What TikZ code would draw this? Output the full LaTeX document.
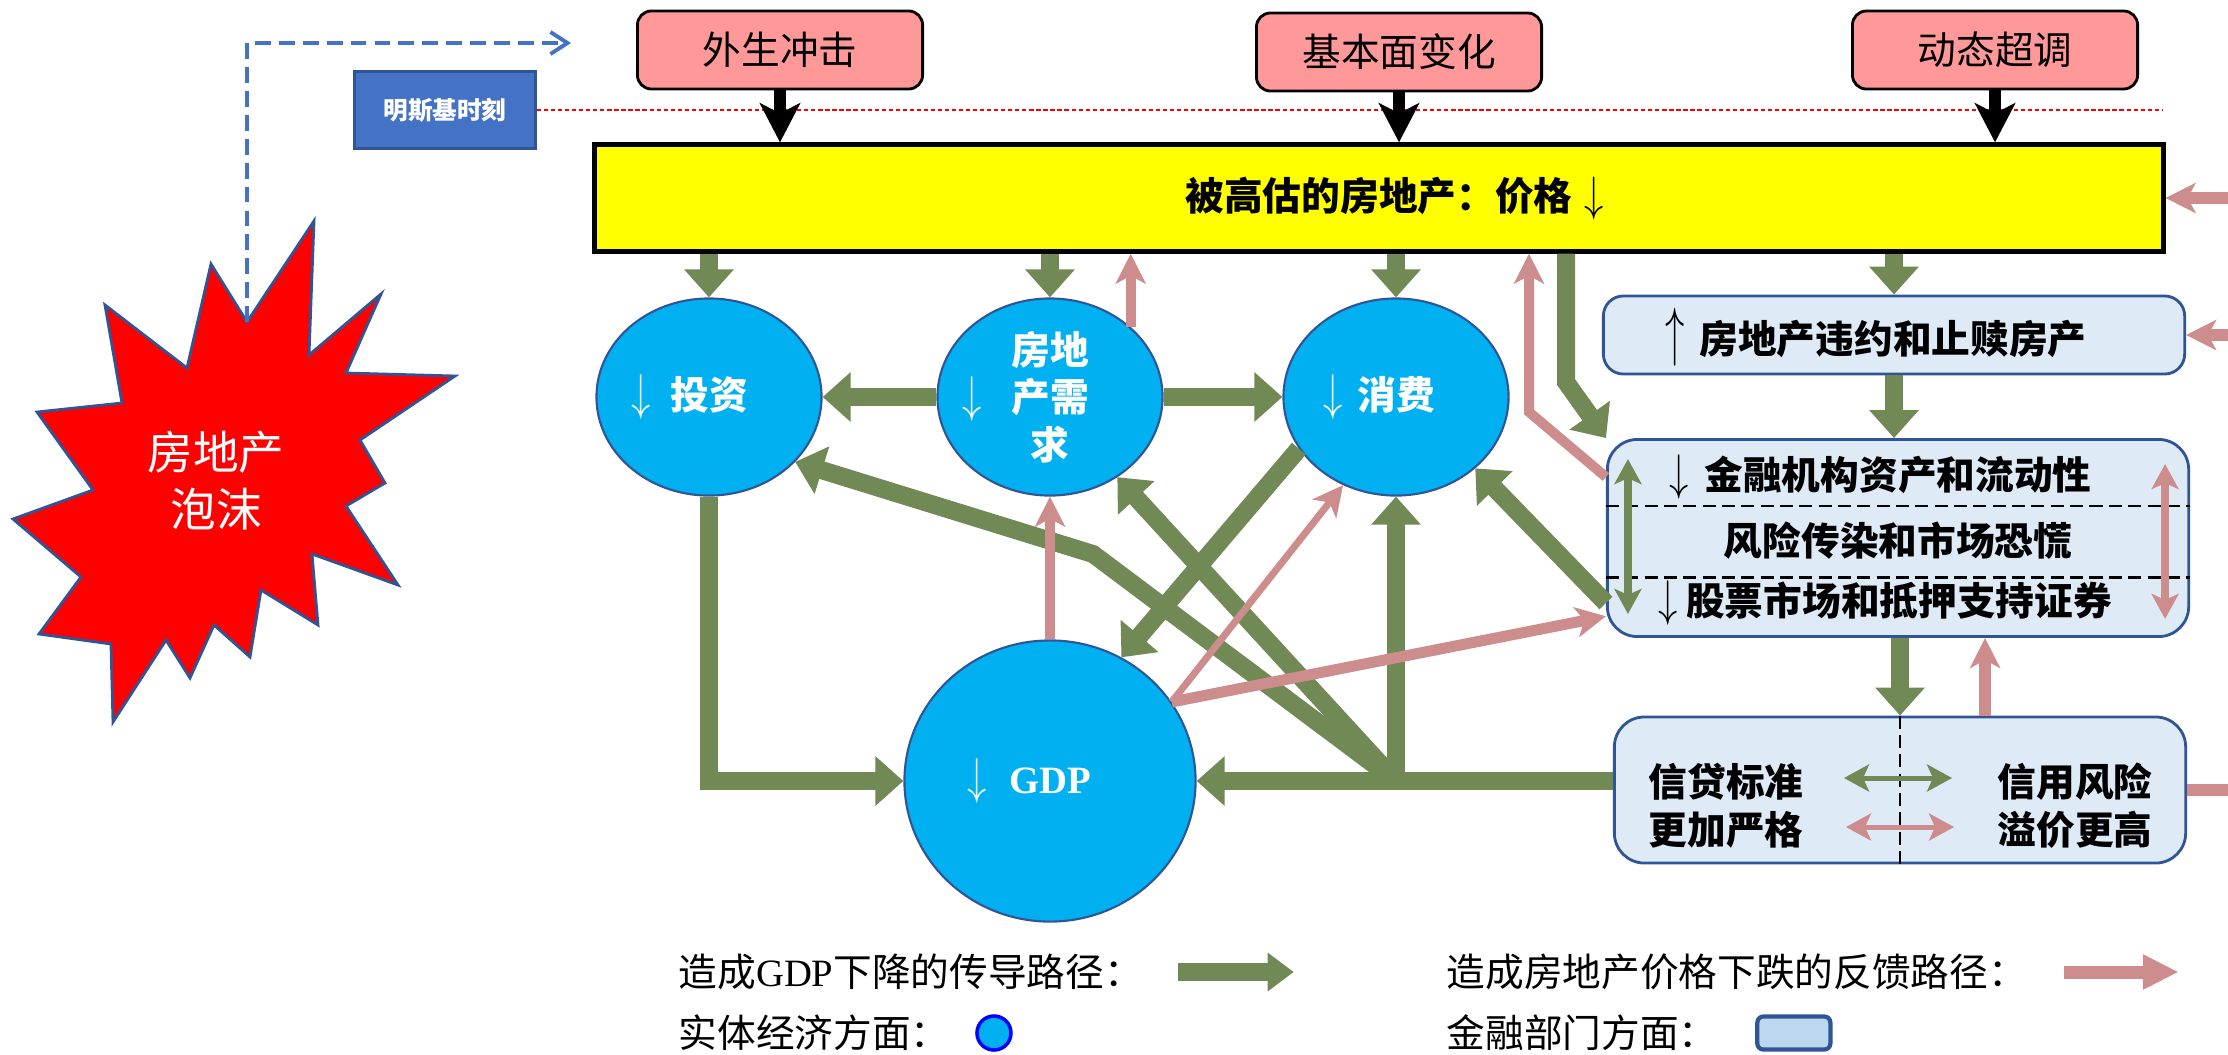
\documentclass[tikz,border=0pt]{standalone}
\usepackage{graphicx}
\usepackage{fontspec}
\setmainfont{Noto Sans CJK SC}
\newfontfamily\latinserif{Liberation Serif}
\usetikzlibrary{arrows.meta,
                shapes.geometric,
                positioning}
\definecolor{pathgreen}{RGB}{112,137,85}
\definecolor{pathpink}{RGB}{205,141,141}
\definecolor{realblue}{RGB}{0,176,240}
\definecolor{edgeblue}{RGB}{47,85,151}
\definecolor{finfill}{RGB}{222,235,247}
\definecolor{legendfill}{RGB}{189,215,238}
\definecolor{shockpink}{RGB}{255,153,153}
\definecolor{minskyblue}{RGB}{68,114,196}
\definecolor{priceyellow}{RGB}{255,255,0}
\newcommand{\arrowdown}{\scalebox{1}[1.3]{$\downarrow$}}
\newcommand{\arrowup}{\scalebox{1}[1.7]{$\uparrow$}}
\tikzset{shock/.style =
   {rectangle,
    draw,
    line width=0.8pt,
    fill=shockpink,
    rounded corners=0.14cm,
    minimum width=2.85cm,
    minimum height=0.78cm,
    inner sep=0pt,
    font=\fontsize{11}{13.5}\selectfont}}
\tikzset{pricebox/.style =
   {rectangle,
    draw,
    line width=1.2pt,
    fill=priceyellow,
    minimum width=15.68cm,
    minimum height=1.07cm,
    inner sep=0pt,
    font=\fontsize{11}{13.5}\selectfont\bfseries}}
\tikzset{minsky/.style =
   {rectangle,
    draw=edgeblue,
    line width=0.8pt,
    fill=minskyblue,
    text=white,
    minimum width=1.81cm,
    minimum height=0.77cm,
    inner sep=0pt,
    font=\fontsize{7}{8}\selectfont\bfseries}}
\tikzset{real/.style =
   {ellipse,
    draw=edgeblue,
    line width=0.6pt,
    fill=realblue,
    text=white,
    minimum width=2.25cm,
    minimum height=1.97cm,
    inner sep=0pt,
    font=\fontsize{11}{13.5}\selectfont\bfseries}}
\tikzset{finbox/.style =
   {rectangle,
    draw=edgeblue,
    line width=0.8pt,
    fill=finfill,
    rounded corners=0.2cm,
    inner sep=0pt}}
\tikzset{fintext/.style =
   {inner sep=0pt,
    font=\fontsize{11}{13.7}\selectfont\bfseries}}
\tikzset{bubble/.style =
   {draw=edgeblue,
    line width=0.8pt,
    fill=red}}
\tikzset{bubbletext/.style =
   {text=white,
    align=center,
    font=\fontsize{13}{16.2}\selectfont}}
\tikzset{legendtext/.style =
   {anchor=west,
    inner sep=0pt,
    font=\fontsize{11}{13.5}\selectfont}}
\tikzset{shockarrow/.style =
   {draw=black,
    line width=0.12cm,
    -{Stealth[width=0.4cm,length=0.39cm,inset=0.1cm]}}}
\tikzset{gpath/.style =
   {draw=pathgreen,
    line width=0.18cm,
    -{Triangle[width=0.48cm,length=0.28cm]}}}
\tikzset{ppath/.style =
   {draw=pathpink,
    line width=0.1cm,
    -{Stealth[width=0.3cm,length=0.3cm,inset=0.08cm]}}}
\tikzset{gdouble/.style =
   {draw=pathgreen,
    line width=0.08cm,
    arrows={Stealth[width=0.27cm,length=0.25cm,inset=0.06cm]-Stealth[width=0.27cm,length=0.25cm,inset=0.06cm]}}}
\tikzset{pdouble/.style =
   {gdouble,
    draw=pathpink}}
\tikzset{divider/.style =
   {draw=black,
    line width=0.8pt,
    dash pattern=on 3.7pt off 1.8pt}}
\tikzset{minskypath/.style =
   {draw=minskyblue,
    line width=1.1pt,
    dash pattern=on 4.5pt off 2.3pt,
    -{Straight Barb[length=0.17cm,width=0.22cm]}}}
\tikzset{redline/.style =
   {draw=red,
    line width=0.4pt,
    dash pattern=on 1.2pt off 0.8pt}}

\begin{document}
\begin{tikzpicture}[x=0.01cm, y=-0.01cm]

    \useasboundingbox (0,0) rectangle (2228,1054);

    \draw [bubble] (247,322) -- (314,221) -- (309,355) -- (381,294) -- (346,373)
        -- (455,376) -- (360,440) -- (385,483) -- (346,506) -- (398,585)
        -- (312,554) -- (318,625) -- (261,590) -- (250,657) -- (214,625)
        -- (190,678) -- (166,640) -- (113,722) -- (111,644) -- (39,634)
        -- (81,577) -- (13,519) -- (93,490) -- (37,412) -- (122,403)
        -- (105,305) -- (187,368) -- (211,264) -- cycle;
    \coordinate (notch) at (247,322);
    \node [bubbletext] (bubble) at (216,481) {房地产\\泡沫};

    \node [minsky] (minsky) at (445,110) {明斯基时刻};
    \coordinate (redend) at (2163,110);
    \draw [redline] (minsky.east) -- (redend);

    \coordinate (turn) at (247,43);
    \coordinate (dashend) at (571,43);
    \draw [minskypath] (notch) -- (turn) -- (dashend);

    \node [shock] (exo) at (780,50) {外生冲击};
    \node [shock] (fund) at (1399,52) {基本面变化};
    \node [shock] (overshoot) at (1995,50) {动态超调};

    \node [pricebox] (price) at (1379,198) {被高估的房地产：价格\rlap{\hspace{0.12cm}\scalebox{1}[1.25]{$\downarrow$}}};

    \node [real] (inv) at (709,397) {\llap{\arrowdown\hspace{0.2cm}}投资};
    \node [real,
           align=center] (dem) at (1050,397) {房地\\\llap{\arrowdown\hspace{0.3cm}}产需\\求};
    \node [real] (con) at (1396,397) {\llap{\arrowdown\hspace{0.15cm}}消费};
    \node [real,
           minimum width=2.91cm,
           minimum height=2.81cm] (gdp) at (1050,781) {\llap{\arrowdown\hspace{0.22cm}}{\latinserif\bfseries GDP}};

    \node [finbox,
           minimum width=5.81cm,
           minimum height=0.78cm] (dflt) at (1894,335) {};
    \node [fintext] (dflttext) at (1893,337) {\llap{\arrowup\hspace{0.15cm}}房地产违约和止赎房产};

    \node [finbox,
           rounded corners=0.3cm,
           minimum width=5.81cm,
           minimum height=1.97cm] (fin) at (1898,538) {};
    \node [fintext] (fin1) at (1898,477) {\llap{\arrowdown\hspace{0.16cm}}金融机构资产和流动性};
    \node [fintext] (fin2) at (1898,541) {风险传染和市场恐慌};
    \node [fintext] (fin3) at (1899,603) {\llap{\arrowdown\hspace{0.09cm}}股票市场和抵押支持证券};
    \draw [divider] ([yshift=-0.68cm]fin.north west) -- ([yshift=-0.68cm]fin.north east);
    \draw [divider] ([yshift=-1.39cm]fin.north west) -- ([yshift=-1.39cm]fin.north east);

    \node [finbox,
           rounded corners=0.3cm,
           minimum width=5.71cm,
           minimum height=1.46cm] (credit) at (1900,790) {};
    \draw [divider] (credit.north) -- (credit.south);
    \node [fintext,
           align=center] (tighten) at (1726,806) {信贷标准\\更加严格};
    \node [fintext,
           align=center] (spread) at (2075,806) {信用风险\\溢价更高};

    \draw [shockarrow] (exo.south) -- (exo.south |- price.north);
    \draw [shockarrow] (fund.south) -- (fund.south |- price.north);
    \draw [shockarrow] (overshoot.south) -- (overshoot.south |- price.north);

    \draw [gpath] (price.south -| inv.north) -- (inv.north);
    \draw [gpath] (price.south -| dem.north) -- (dem.north);
    \draw [gpath] (price.south -| con.north) -- (con.north);
    \draw [gpath] (price.south -| dflt.north) -- (dflt.north);
    \coordinate (drop) at (1566,382);
    \draw [gpath] (price.south -| drop) -- (drop) -- (fin.north west);
    \draw [gpath] (dflt.south) -- (dflt.south |- fin.north);
    \draw [gpath] (fin.south -| credit.north) -- (credit.north);

    \draw [gpath] (dem.west) -- (inv.east);
    \draw [gpath] (dem.east) -- (con.west);
    \draw [gpath] (inv.south) |- (gdp.west);
    \draw [gpath] (credit.west |- gdp.east) -- (gdp.east);
    \coordinate (hub) at (con.south |- gdp.east);
    \draw [gpath] (hub) -- (con.south);
    \draw [gpath] (hub) -- (dem.-50);
    \coordinate (elbow) at (1093,554);
    \draw [gpath] (hub) -- (elbow) -- (inv.-37);
    \draw [gpath] (con.208) -- (gdp.60);
    \draw [gpath] (fin.west |- fin3) -- (con.-42);

    \draw [ppath] (gdp.north) -- (dem.south);
    \draw [ppath] (dem.41) -- (dem.41 |- price.south);
    \coordinate (rise) at (1529,412);
    \draw [ppath] (fin.west |- fin1) -- (rise) -- (rise |- price.south);
    \draw [ppath,
           line width=0.07cm] (gdp.33) -- (con.239);
    \draw [ppath,
           line width=0.11cm] (gdp.33) -- (fin.195);
    \coordinate (rim) at (2228,0);
    \draw [ppath,
           line width=0.12cm] (price.east -| rim) -- (price.east);
    \draw [ppath,
           line width=0.12cm] (dflt.east -| rim) -- (dflt.east);
    \draw [draw=pathpink,
           line width=0.12cm] (credit.east) -- (credit.east -| rim);
    \coordinate (creditup) at ([xshift=0.85cm]credit.north);
    \draw [ppath,
           line width=0.12cm] (creditup) -- (creditup |- fin.south);

    \draw [gdouble] ([xshift=0.22cm,yshift=-0.21cm]fin.north west) -- ([xshift=0.22cm,yshift=0.24cm]fin.south west);
    \draw [pdouble] ([xshift=-0.25cm,yshift=-0.26cm]fin.north east) -- ([xshift=-0.25cm,yshift=0.19cm]fin.south east);
    \draw [gdouble,
           line width=0.05cm] ([xshift=-0.56cm,yshift=0.12cm]credit.center) -- ([xshift=0.52cm,yshift=0.12cm]credit.center);
    \draw [pdouble,
           line width=0.05cm] ([xshift=-0.54cm,yshift=-0.37cm]credit.center) -- ([xshift=0.54cm,yshift=-0.37cm]credit.center);

    \node [legendtext] (legpath) at (678,972) {造成{\latinserif GDP}下降的传导路径：};
    \coordinate [right=0.34cm of legpath] (legg);
    \draw [gpath,
           -{Triangle[width=0.37cm,length=0.26cm]}] (legg) -- ++(1.16cm,0);
    \node [legendtext] (legfeed) at (1446,972) {造成房地产价格下跌的反馈路径：};
    \coordinate [right=0.36cm of legfeed] (legp);
    \draw [ppath,
           line width=0.13cm,
           -{Triangle[width=0.33cm,length=0.36cm]}] (legp) -- ++(1.15cm,0);
    \node [legendtext] (legreal) at (678,1033) {实体经济方面：};
    \node [ellipse,
           draw=blue,
           line width=1pt,
           fill=realblue,
           minimum width=0.34cm,
           minimum height=0.34cm,
           inner sep=0pt,
           right=0.25cm of legreal] (realicon) {};
    \node [legendtext] (legfin) at (1446,1033) {金融部门方面：};
    \node [rectangle,
           draw=edgeblue,
           line width=1.2pt,
           fill=legendfill,
           rounded corners=0.06cm,
           minimum width=0.73cm,
           minimum height=0.33cm,
           inner sep=0pt,
           right=0.37cm of legfin] (finicon) {};

\end{tikzpicture}
\end{document}
